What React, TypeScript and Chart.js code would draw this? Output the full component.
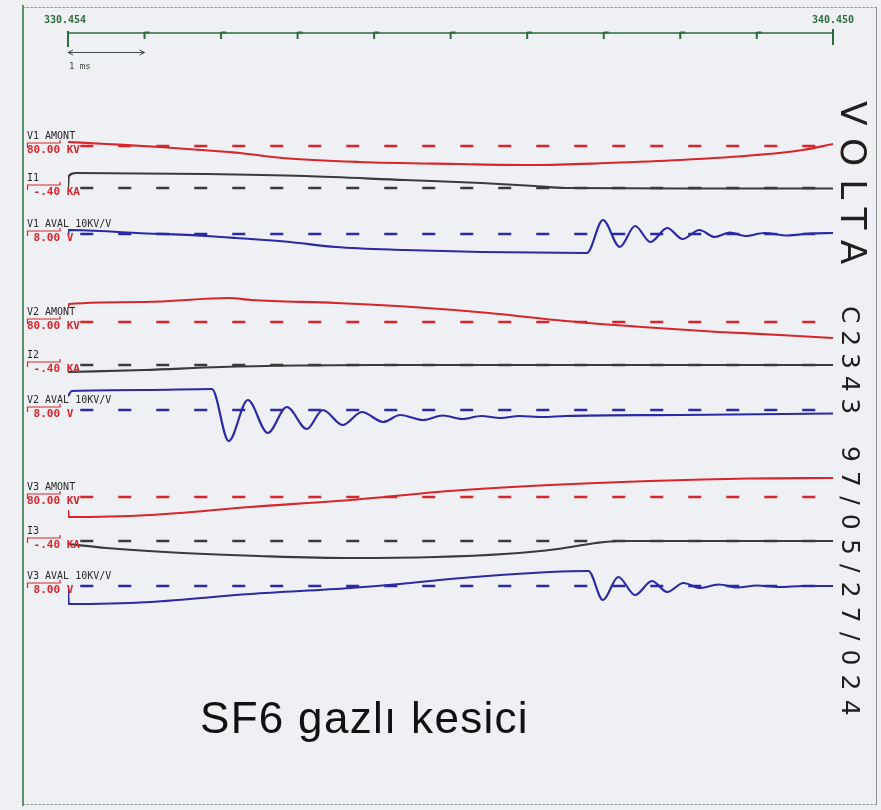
import React, { useEffect, useRef } from "react";
import { Chart, registerables } from "chart.js";
Chart.register(...registerables);

// ---- time axis (ms after trigger window start) ----
const timeStartLabel = "330.454";
const timeEndLabel = "340.450";
const timeSpanMs = 9.996;
const msTicks = [0, 1, 2, 3, 4, 5, 6, 7, 8, 9];
const dashStartMs = 0.16;

// ---- channel descriptions ----
const channelNames = ["V1 AMONT", "I1", "V1 AVAL 10KV/V", "V2 AMONT", "I2", "V2 AVAL 10KV/V", "V3 AMONT", "I3", "V3 AVAL 10KV/V"];
const channelScales = ["80.00 KV", " -.40 KA", " 8.00 V", "80.00 KV", " -.40 KA", " 8.00 V", "80.00 KV", " -.40 KA", " 8.00 V"];
const channelColors = ["#d6262b", "#3a3a3a", "#2a2aa6", "#d6262b", "#3a3a3a", "#2a2aa6", "#d6262b", "#3a3a3a", "#2a2aa6"];
// vertical trace offsets (in divisions) of each channel's zero line
const channelOffsets = [50.4, 46.2, 41.6, 32.8, 28.5, 24.0, 15.3, 10.9, 6.4];

// ---- traces: time (ms) / deflection (divisions) ----
const v1AmontT = [0, 0.5, 1.2, 2.1, 2.25, 2.8, 3.8, 5.1, 6.1, 7.05, 8.0, 9.0, 9.6, 9.996];
const v1AmontV = [0.4, 0.2, -0.1, -0.6, -0.7, -1.2, -1.6, -1.8, -1.9, -1.7, -1.4, -0.9, -0.4, 0.2];

const i1T = [0, 0.01, 0.1, 1.8, 3.1, 4.4, 5.4, 6.1, 6.5, 8.0, 9.996];
const i1V = [0, 1.2, 1.5, 1.4, 1.2, 0.8, 0.5, 0.2, 0.0, -0.05, -0.05];

const v1AvalT = [0, 0.01, 0.9, 1.8, 2.2, 2.9, 3.5, 4.4, 5.4, 6.78, 6.99, 7.21, 7.41, 7.61, 7.83, 8.03, 8.25, 8.45, 8.65, 8.85, 9.1, 9.4, 9.7, 9.996];
const v1AvalV = [-0.3, 0.4, 0.1, -0.2, -0.4, -0.8, -1.3, -1.6, -1.8, -1.9, 1.4, -1.3, 0.8, -0.8, 0.6, -0.5, 0.4, -0.3, 0.15, -0.2, 0.1, -0.15, 0.05, 0.1];

const v2AmontT = [0, 0.01, 1.0, 2.1, 2.4, 3.5, 4.5, 5.5, 6.5, 7.5, 8.5, 9.3, 9.996];
const v2AmontV = [1.4, 1.8, 2.0, 2.4, 2.2, 1.9, 1.5, 0.9, 0.1, -0.5, -1.0, -1.3, -1.6];

const i2T = [0, 1.0, 2.0, 3.0, 4.0, 9.996];
const i2V = [-0.7, -0.5, -0.2, -0.05, 0, 0];

const v2AvalT = [0, 0.05, 1.0, 1.88, 2.1, 2.35, 2.61, 2.86, 3.12, 3.33, 3.59, 3.84, 4.12, 4.34, 4.64, 4.9, 5.15, 5.4, 5.65, 5.9, 6.2, 6.5, 8.0, 9.996];
const v2AvalV = [1.4, 1.9, 2.0, 2.1, -3.1, 1.0, -2.3, 0.3, -1.9, 0.0, -1.5, -0.2, -1.2, -0.5, -1.0, -0.55, -0.9, -0.6, -0.8, -0.6, -0.7, -0.6, -0.5, -0.35];

const v3AmontT = [0, 0.01, 1.07, 2.38, 3.69, 4.99, 6.3, 7.6, 8.9, 9.996];
const v3AmontV = [-1.3, -2.0, -1.8, -1.0, -0.3, 0.6, 1.2, 1.6, 1.85, 1.9];

const i3T = [0, 0.5, 1.5, 2.5, 3.7, 4.8, 5.7, 6.4, 6.9, 7.2, 9.996];
const i3V = [-0.3, -0.7, -1.2, -1.5, -1.7, -1.6, -1.3, -0.8, -0.2, 0, 0];

const v3AvalT = [0, 0.01, 1.07, 2.38, 3.69, 4.34, 4.99, 5.65, 6.3, 6.8, 6.99, 7.19, 7.41, 7.63, 7.83, 8.04, 8.26, 8.5, 8.75, 9.0, 9.3, 9.6, 9.996];
const v3AvalV = [0, -1.8, -1.6, -0.8, -0.2, 0.2, 0.7, 1.1, 1.4, 1.5, -1.4, 0.9, -0.9, 0.5, -0.6, 0.3, -0.2, 0.15, -0.15, 0.05, -0.1, 0, 0];

const traceTimes = [v1AmontT, i1T, v1AvalT, v2AmontT, i2T, v2AvalT, v3AmontT, i3T, v3AvalT];
const traceValues = [v1AmontV, i1V, v1AvalV, v2AmontV, i2V, v2AvalV, v3AmontV, i3V, v3AvalV];

const PAPER = "#eff0f4";
const GREEN = "#2d6b3c";

const oscPlugin = {
  id: "oscDecor",
  beforeDraw(chart: any) {
    const { ctx, scales } = chart;
    const x = scales.x;
    ctx.save();
    ctx.fillStyle = PAPER;
    ctx.fillRect(0, 0, chart.width, chart.height);

    // paper frame
    ctx.strokeStyle = "#9aa39c";
    ctx.lineWidth = 1;
    ctx.setLineDash([3, 1]);
    ctx.beginPath();
    ctx.moveTo(22, 7.5);
    ctx.lineTo(876, 7.5);
    ctx.moveTo(22, 804.5);
    ctx.lineTo(876, 804.5);
    ctx.stroke();
    ctx.setLineDash([]);
    ctx.strokeStyle = "#8d948f";
    ctx.beginPath();
    ctx.moveTo(876.5, 7);
    ctx.lineTo(876.5, 805);
    ctx.stroke();
    ctx.strokeStyle = "#5b9170";
    ctx.lineWidth = 2;
    ctx.beginPath();
    ctx.moveTo(23, 5);
    ctx.lineTo(23, 806);
    ctx.stroke();

    // time bar
    const x0 = x.getPixelForValue(0);
    const xEnd = x.getPixelForValue(timeSpanMs);
    ctx.strokeStyle = GREEN;
    ctx.lineWidth = 1.5;
    ctx.beginPath();
    ctx.moveTo(x0, 33);
    ctx.lineTo(xEnd, 33);
    ctx.stroke();
    ctx.lineWidth = 2;
    msTicks.forEach((t) => {
      const px = x.getPixelForValue(t);
      ctx.beginPath();
      if (t === 0) {
        ctx.moveTo(px, 31);
        ctx.lineTo(px, 47);
      } else {
        ctx.moveTo(px, 32);
        ctx.lineTo(px, 39);
        ctx.moveTo(px, 32.5);
        ctx.lineTo(px + 5, 32.5);
      }
      ctx.stroke();
    });
    ctx.beginPath();
    ctx.moveTo(xEnd, 29);
    ctx.lineTo(xEnd, 45);
    ctx.stroke();

    ctx.fillStyle = GREEN;
    ctx.font = 'bold 10px "DejaVu Sans Mono"';
    ctx.textAlign = "center";
    ctx.textBaseline = "middle";
    ctx.fillText(timeStartLabel, x0 - 3, 20);
    ctx.fillText(timeEndLabel, xEnd, 20);

    // 1 ms scale arrow
    const x1 = x.getPixelForValue(1);
    ctx.strokeStyle = "#3e4a42";
    ctx.lineWidth = 1;
    ctx.beginPath();
    ctx.moveTo(x0, 52.5);
    ctx.lineTo(x1, 52.5);
    ctx.moveTo(x0 + 5, 50);
    ctx.lineTo(x0, 52.5);
    ctx.lineTo(x0 + 5, 55);
    ctx.moveTo(x1 - 5, 50);
    ctx.lineTo(x1, 52.5);
    ctx.lineTo(x1 - 5, 55);
    ctx.stroke();
    ctx.fillStyle = "#3e4a42";
    ctx.font = '9px "DejaVu Sans Mono"';
    ctx.textAlign = "left";
    ctx.fillText("1 ms", x0 + 1, 67);
    ctx.restore();
  },
  afterDatasetsDraw(chart: any) {
    const { ctx, scales } = chart;
    const y = scales.y;
    ctx.save();
    ctx.textAlign = "left";
    ctx.textBaseline = "middle";
    channelOffsets.forEach((off, i) => {
      const b = y.getPixelForValue(off);
      ctx.fillStyle = "#2a2a2a";
      ctx.font = '10px "DejaVu Sans Mono"';
      ctx.fillText(channelNames[i], 27, b - 10);
      ctx.fillStyle = "#d6262b";
      ctx.font = 'bold 11px "DejaVu Sans Mono"';
      ctx.fillText(channelScales[i], 27, b + 4);
      ctx.strokeStyle = "#d6262b";
      ctx.lineWidth = 1.2;
      ctx.beginPath();
      ctx.moveTo(27.5, b + 2);
      ctx.lineTo(27.5, b - 3);
      ctx.lineTo(60, b - 3);
      ctx.lineTo(60, b - 6);
      ctx.stroke();
    });
    ctx.restore();
  },
};

export default function App() {
  const ref = useRef<HTMLCanvasElement>(null);
  useEffect(() => {
    const datasets: any[] = [];
    channelOffsets.forEach((off, i) => {
      datasets.push({
        data: [
          { x: dashStartMs, y: off },
          { x: timeSpanMs, y: off },
        ],
        borderColor: channelColors[i],
        borderWidth: 2.5,
        borderDash: [13, 25],
        pointRadius: 0,
        fill: false,
      });
    });
    traceTimes.forEach((ts, i) => {
      datasets.push({
        data: ts.map((t, k) => ({ x: t, y: channelOffsets[i] + traceValues[i][k] })),
        borderColor: channelColors[i],
        borderWidth: 2.2,
        pointRadius: 0,
        fill: false,
        cubicInterpolationMode: "monotone",
      });
    });
    const chart = new Chart(ref.current as HTMLCanvasElement, {
      type: "line",
      data: { datasets },
      options: {
        animation: false,
        responsive: false,
        devicePixelRatio: 1,
        layout: { padding: { left: 68, right: 48, top: 100, bottom: 160 } },
        scales: {
          x: { type: "linear", min: 0, max: timeSpanMs, display: false },
          y: { type: "linear", min: 0, max: 55, display: false },
        },
        plugins: { legend: { display: false }, tooltip: { enabled: false }, title: { display: false } },
      },
      plugins: [oscPlugin],
    } as any);
    return () => chart.destroy();
  }, []);

  const vText: React.CSSProperties = {
    position: "absolute",
    transformOrigin: "0 0",
    transform: "rotate(90deg)",
    fontFamily: '"DejaVu Sans", sans-serif',
    color: "#1f1f1f",
    whiteSpace: "nowrap",
  };

  return (
    <div style={{ position: "absolute", left: 0, top: 0, width: 881, height: 810, overflow: "hidden", background: PAPER }}>
      <canvas ref={ref} width={881} height={810} style={{ position: "absolute", left: 0, top: 0 }} />
      <div style={{ ...vText, left: 871, top: 101, fontSize: 36, lineHeight: "36px", letterSpacing: 13 }}>VOLTA</div>
      <div style={{ ...vText, left: 863, top: 306, fontSize: 25, lineHeight: "25px", letterSpacing: 6.8 }}>C2343</div>
      <div style={{ ...vText, left: 863, top: 446, fontSize: 25, lineHeight: "25px", letterSpacing: 9.2 }}>97/05/27/024</div>
      <div
        style={{
          position: "absolute",
          left: 200,
          top: 696,
          fontFamily: '"Liberation Sans", Arial, sans-serif',
          fontSize: 44,
          lineHeight: "44px",
          letterSpacing: 1.3,
          color: "#111",
          whiteSpace: "nowrap",
        }}
      >
        SF6 gazlı kesici
      </div>
    </div>
  );
}
